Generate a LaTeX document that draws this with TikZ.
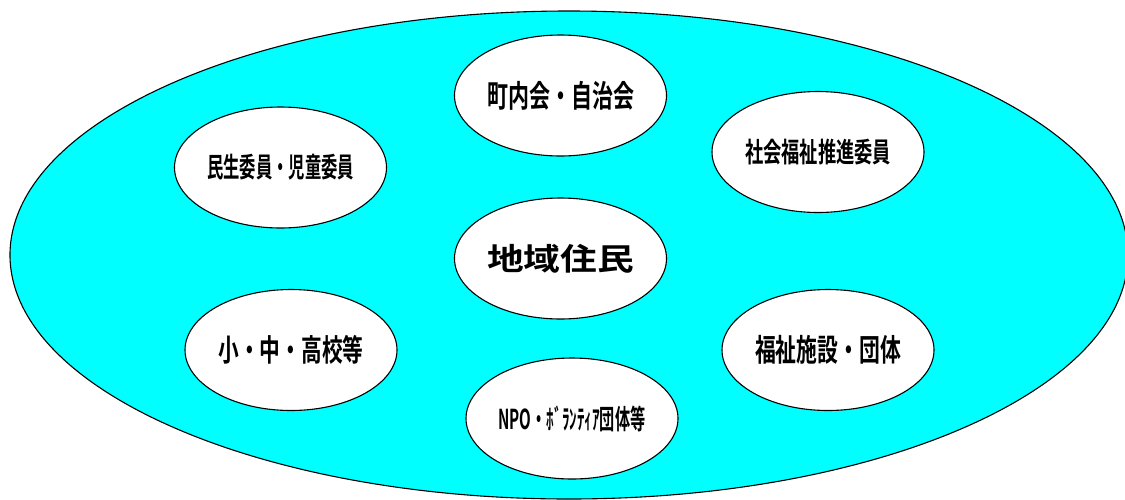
\documentclass[tikz,border=0pt]{standalone}
\usepackage{fontspec}
\usepackage{graphicx}
\usetikzlibrary{shapes.geometric}
\newfontfamily\jp{Noto Sans CJK JP Bold}
\definecolor{aqua}{HTML}{00FFFF}
\newcommand{\lbl}[3]{\resizebox*{#1pt}{#2pt}{\jp #3}}
\tikzset{
  outerblob/.style={ellipse, draw=black, line width=1.1pt, fill=aqua, inner sep=0pt, minimum width=1118pt, minimum height=488pt},
  group/.style={ellipse, draw=black, line width=1.1pt, fill=white, inner sep=0pt, minimum width=212pt, minimum height=121pt}
}
\begin{document}
\begin{tikzpicture}[x=1pt,y=-1pt]
\useasboundingbox (0,0) rectangle (1125,499);
\begin{scope}
\clip (0,0) rectangle (1125,499);
\node[outerblob] (outer) at (569,255) {};
\end{scope}
\node[group] (chonai) at (560.5,95.5) {\lbl{147}{29}{町内会・自治会}};
\node[group] (shakai) at (818,152) {\lbl{146}{26}{社会福祉推進委員}};
\node[group] (minsei) at (280.5,167.5) {\lbl{147}{26}{民生委員・児童委員}};
\node[group] (chiiki) at (560.5,258.5) {\lbl{147}{29}{地域住民}};
\node[group] (gakko) at (291,350) {\lbl{145}{29}{小・中・高校等}};
\node[group] (fukushi) at (828,350) {\lbl{146}{29}{福祉施設・団体}};
\node[group] (npo) at (572,418.5) {\lbl{147}{26}{NPO・ﾎﾞﾗﾝﾃｨｱ団体等}};
\end{tikzpicture}
\end{document}
